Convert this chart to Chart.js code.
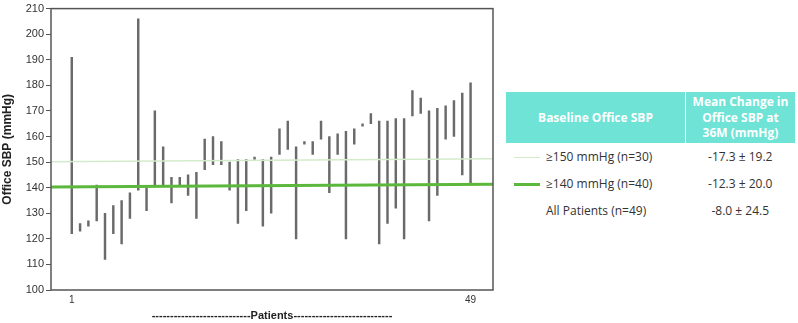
<!DOCTYPE html>
<html>
<head>
<meta charset="utf-8">
<script src="https://cdn.jsdelivr.net/npm/chart.js@4"></script>
<style>
  body { margin: 0; background: #fff; width: 798px; height: 323px; overflow: hidden; position: relative; }
  #wrap { position: absolute; left: 0; top: 0; width: 500px; height: 323px; }
  table { position: absolute; left: 506px; top: 92px; width: 289px; border-collapse: collapse;
          font-family: "Open Sans", sans-serif; font-size: 12px; color: #333; }
  th { background: #6ee3d6; color: #fff; font-weight: 700; height: 51px; padding: 0; line-height: 15.5px; }
  th + th { border-left: 1px solid #fff; }
  td { height: 27px; padding: 0; }
  td.v { text-align: center; }
  .sw { display: inline-block; width: 26px; vertical-align: middle; margin: 0 6px 0 8px; }
</style>
</head>
<body>
<div id="wrap"><canvas id="chart1" width="500" height="323"></canvas></div>
<table>
  <tr><th style="width:179px">Baseline Office SBP</th><th>Mean Change in<br>Office SBP at<br>36M (mmHg)</th></tr>
  <tr><td><span class="sw" style="border-top:1.5px solid #d3ebca"></span>≥150 mmHg (n=30)</td><td class="v">-17.3 ± 19.2</td></tr>
  <tr><td><span class="sw" style="border-top:3px solid #5cb83c"></span>≥140 mmHg (n=40)</td><td class="v">-12.3 ± 20.0</td></tr>
  <tr><td><span class="sw"></span>All Patients (n=49)</td><td class="v">-8.0 ± 24.5</td></tr>
</table>
<script>
// chart data
const patients = Array.from({ length: 49 }, (_, i) => i + 1);
const sbpLow  = [122, 123, 125, 127, 112, 122, 118, 128, 139, 131,
                 141, 141, 134, 141, 137, 128, 147, 149, 149, 139,
                 126, 131, 151, 125, 130, 153, 155, 120, 157, 153,
                 159, 138, 153, 120, 157, 164, 165, 118, 126, 132,
                 120, 168, 169, 127, 137, 159, 160, 145, 142];
const sbpHigh = [191, 126, 127, 141, 130, 133, 135, 138, 206, 140,
                 170, 156, 144, 144, 145, 146, 159, 160, 158, 150,
                 151, 151, 152, 151, 152, 163, 166, 156, 158, 158,
                 166, 160, 161, 162, 163, 165, 169, 166, 166, 167,
                 167, 178, 175, 170, 171, 172, 174, 177, 181];
const refX = [-1.5, 51.7];
const ref150 = [150.1, 151.3];
const ref140 = [140.3, 141.3];
const yTicks = [100, 110, 120, 130, 140, 150, 160, 170, 180, 190, 200, 210];
const xTicks = [1, 49];

const framePlugin = {
  id: 'frame',
  afterDraw(chart) {
    const a = chart.chartArea, c = chart.ctx;
    c.save();
    c.strokeStyle = '#555';
    c.lineWidth = 1.5;
    c.strokeRect(a.left, a.top, a.right - a.left, a.bottom - a.top);
    c.restore();
  }
};

const ctx = document.getElementById('chart1').getContext('2d');
new Chart(ctx, {
  data: {
    datasets: [
      {
        type: 'line',
        label: '≥150 mmHg',
        data: refX.map((x, i) => ({ x: x, y: ref150[i] })),
        borderColor: '#d3ebca',
        borderWidth: 1.5,
        pointRadius: 0,
        order: 0
      },
      {
        type: 'line',
        label: '≥140 mmHg',
        data: refX.map((x, i) => ({ x: x, y: ref140[i] })),
        borderColor: '#5cb83c',
        borderWidth: 3,
        pointRadius: 0,
        order: 0
      },
      {
        type: 'bar',
        label: 'Office SBP',
        data: patients.map((p, i) => ({ x: p, y: [sbpLow[i], sbpHigh[i]] })),
        backgroundColor: '#6a6a6a',
        barThickness: 1.8,
        order: 1
      }
    ]
  },
  options: {
    responsive: false,
    animation: false,
    layout: { padding: { top: 5, right: 7, left: 0, bottom: 0 } },
    plugins: { legend: { display: false }, tooltip: { enabled: false } },
    scales: {
      x: {
        type: 'linear',
        min: refX[0],
        max: refX[1],
        offset: false,
        afterBuildTicks: (s) => { s.ticks = xTicks.map(v => ({ value: v })); },
        afterFit: (s) => { s.height = 33; },
        grid: { display: false, drawTicks: false, offset: false },
        border: { display: false },
        ticks: { color: '#333', font: { family: 'Liberation Sans', size: 10 }, padding: 4 },
        title: {
          display: true,
          text: '---------------------------Patients---------------------------',
          color: '#222',
          font: { family: 'Liberation Sans', size: 11, weight: 'bold' },
          padding: { top: 6, bottom: 0 }
        }
      },
      y: {
        min: 100,
        max: 210,
        afterBuildTicks: (s) => { s.ticks = yTicks.map(v => ({ value: v })); },
        afterFit: (s) => { s.width = 51; },
        grid: { drawOnChartArea: false, drawTicks: true, tickLength: 5, color: '#555' },
        border: { display: false },
        ticks: { color: '#333', font: { family: 'Liberation Sans', size: 11 }, padding: 2 },
        title: {
          display: true,
          text: 'Office SBP (mmHg)',
          color: '#222',
          font: { family: 'Liberation Sans', size: 12, weight: 'bold' },
          padding: { top: 0, bottom: 2 }
        }
      }
    }
  },
  plugins: [framePlugin]
});
</script>
</body>
</html>
